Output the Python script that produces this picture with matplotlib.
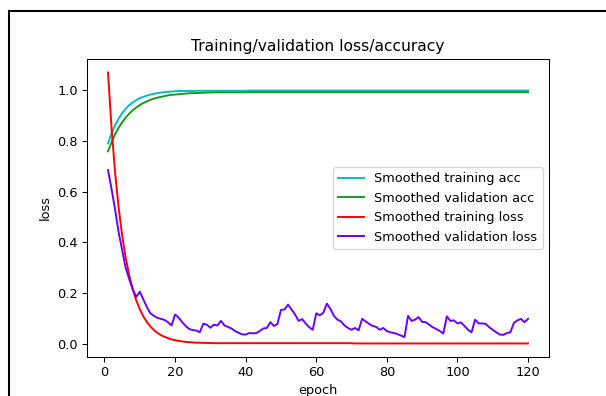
import matplotlib
matplotlib.use("Agg")
import matplotlib.pyplot as plt
from matplotlib.lines import Line2D

epochs = list(range(1, 121))

train_acc = [0.790, 0.830, 0.862, 0.888, 0.910, 0.927, 0.941, 0.952, 0.961, 0.969,
             0.974, 0.979, 0.983, 0.986, 0.989, 0.991, 0.993, 0.994, 0.995, 0.996,
             0.997, 0.997, 0.997, 0.997, 0.997, 0.998, 0.998, 0.998, 0.998, 0.998,
             0.998, 0.998, 0.998, 0.998, 0.998, 0.998, 0.998, 0.998, 0.998, 0.998] + [0.999] * 80

val_acc = [0.759, 0.795, 0.826, 0.852, 0.874, 0.892, 0.908, 0.921, 0.932, 0.942,
           0.950, 0.956, 0.962, 0.967, 0.971, 0.974, 0.977, 0.980, 0.982, 0.983,
           0.985, 0.986, 0.987, 0.988, 0.989, 0.989, 0.990, 0.990, 0.991, 0.991,
           0.992, 0.992, 0.992, 0.992, 0.992, 0.992, 0.992, 0.992, 0.992, 0.992] + [0.993] * 80

train_loss = [1.070, 0.851, 0.676, 0.538, 0.427, 0.340, 0.270, 0.215, 0.171, 0.136,
              0.108, 0.086, 0.068, 0.054, 0.043, 0.034, 0.027, 0.022, 0.017, 0.014,
              0.011, 0.009, 0.007, 0.006, 0.005, 0.004, 0.004, 0.003, 0.003, 0.003] + [0.002] * 40 + [0.001] * 50

val_loss = [0.685, 0.610, 0.530, 0.440, 0.370, 0.300, 0.255, 0.215, 0.185, 0.205,
            0.175, 0.145, 0.120, 0.110, 0.102, 0.098, 0.094, 0.085, 0.072, 0.115,
            0.103, 0.085, 0.070, 0.058, 0.054, 0.052, 0.045, 0.079, 0.075, 0.063,
            0.075, 0.072, 0.090, 0.072, 0.066, 0.060, 0.050, 0.043, 0.037, 0.036,
            0.042, 0.041, 0.042, 0.050, 0.060, 0.062, 0.085, 0.070, 0.078, 0.133,
            0.135, 0.154, 0.135, 0.115, 0.090, 0.097, 0.080, 0.065, 0.055, 0.120,
            0.112, 0.122, 0.158, 0.138, 0.110, 0.095, 0.088, 0.072, 0.062, 0.055,
            0.062, 0.053, 0.098, 0.088, 0.078, 0.070, 0.066, 0.055, 0.062, 0.050,
            0.045, 0.042, 0.038, 0.032, 0.026, 0.110, 0.090, 0.095, 0.105, 0.086,
            0.085, 0.075, 0.065, 0.058, 0.050, 0.040, 0.108, 0.090, 0.092, 0.080,
            0.084, 0.070, 0.055, 0.045, 0.095, 0.080, 0.080, 0.078, 0.065, 0.055,
            0.045, 0.036, 0.035, 0.042, 0.045, 0.082, 0.092, 0.098, 0.085, 0.098]

# the reference looks like a slightly shrunk screenshot, so render at 93 dpi
fig = plt.figure(figsize=(606 / 93, 396 / 93), dpi=93)
ax = fig.add_axes([0.1436, 0.0985, 0.7624, 0.7525])

ax.plot(epochs, train_acc, color='c', label='Smoothed training acc')
ax.plot(epochs, val_acc, color='#1a9a1a', label='Smoothed validation acc')
ax.plot(epochs, train_loss, color='r', label='Smoothed training loss')
ax.plot(epochs, val_loss, color='#6a00ff', label='Smoothed validation loss')

ax.set_title('Training/validation loss/accuracy')
ax.set_xlabel('epoch')
ax.set_ylabel('loss')
ax.legend(loc='center right')

# screenshot border
fig.add_artist(Line2D([0.0152, 0.0152], [0.0, 0.973], color='black', lw=1.6, transform=fig.transFigure))
fig.add_artist(Line2D([0.0152, 1.0], [0.973, 0.973], color='black', lw=1.6, transform=fig.transFigure))

fig.savefig('out.png', dpi=93)
